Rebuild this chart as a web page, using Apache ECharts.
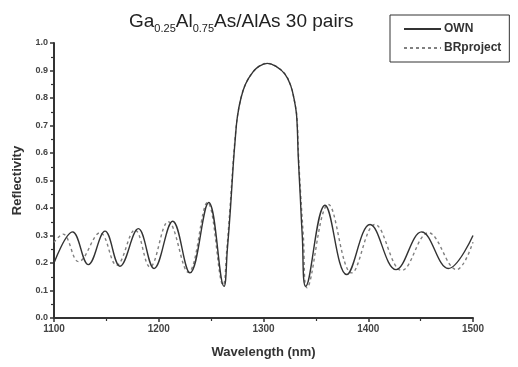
<!DOCTYPE html>
<html>
<head>
<meta charset="utf-8">
<script src="https://cdn.jsdelivr.net/npm/echarts@6/dist/echarts.min.js"></script>
<style>
  html, body { margin: 0; padding: 0; background: #fff; }
  #chart { width: 518px; height: 367px; }
</style>
</head>
<body>
<div id="chart"></div>
<script>
// values (peaks, troughs and the stop band edge)
const legendNames = ["OWN", "BRproject"];
const xTicks = [1100, 1200, 1300, 1400, 1500];

const ownWavelength = [
  1100, 1117.8, 1132.8, 1148.7, 1163, 1180.5, 1195.5, 1213.3, 1229.8, 1247.7,
  1262.3, 1265.5, 1268.5, 1271, 1273, 1275, 1278.5, 1283, 1290, 1296,
  1303.5, 1312, 1320.5, 1326, 1329.5, 1331.7, 1333.2, 1335, 1337, 1340.3,
  1358.7, 1379.4, 1401.7, 1426.5, 1451, 1476.4, 1500
];
const ownReflectivity = [
  0.200, 0.313, 0.194, 0.316, 0.188, 0.325, 0.180, 0.352, 0.164, 0.420,
  0.115, 0.250, 0.400, 0.550, 0.650, 0.730, 0.800, 0.852, 0.895, 0.916,
  0.926, 0.915, 0.887, 0.845, 0.790, 0.731, 0.585, 0.450, 0.300, 0.115,
  0.410, 0.158, 0.340, 0.176, 0.313, 0.180, 0.300
];

const brWavelength = [
  1100, 1108.5, 1123.5, 1144, 1159.8, 1177.3, 1191.6, 1209, 1228.2, 1246.5,
  1261.5, 1265, 1268, 1270.7, 1272.8, 1275, 1278.5, 1283, 1290, 1296,
  1303.5, 1312, 1320.5, 1326, 1329.5, 1331.9, 1333.5, 1335.5, 1338, 1341.5,
  1361.9, 1384.2, 1406.4, 1432, 1457.4, 1484.4, 1500
];
const brReflectivity = [
  0.275, 0.305, 0.205, 0.310, 0.192, 0.320, 0.186, 0.350, 0.166, 0.420,
  0.120, 0.250, 0.400, 0.550, 0.650, 0.730, 0.800, 0.852, 0.895, 0.916,
  0.926, 0.915, 0.887, 0.845, 0.790, 0.731, 0.585, 0.450, 0.300, 0.110,
  0.413, 0.164, 0.340, 0.173, 0.310, 0.176, 0.276
];

const ownData = ownWavelength.map((x, i) => [x, ownReflectivity[i]]);
const brData = brWavelength.map((x, i) => [x, brReflectivity[i]]);

const font = "'Liberation Sans', Arial, sans-serif";
const myChart = echarts.init(document.getElementById("chart"), null, { renderer: "canvas" });

const option = {
  backgroundColor: "#fff",
  animation: false,
  title: {
    text: "{a|Ga}{s|0.25}{a|Al}{s|0.75}{a|As/AlAs 30 pairs}",
    left: 124,
    top: 5,
    textStyle: {
      fontWeight: "normal",
      rich: {
        a: { fontFamily: font, fontSize: 19, fontWeight: "normal", color: "#222", lineHeight: 24 },
        s: { fontFamily: font, fontSize: 11, fontWeight: "normal", color: "#222", lineHeight: 8, verticalAlign: "bottom" },
      },
    },
  },
  legend: {
    orient: "vertical",
    left: 390,
    top: 15,
    width: 127,
    padding: [8, 8, 8, 13],
    borderColor: "#333",
    borderWidth: 1,
    itemWidth: 37,
    itemHeight: 8,
    itemGap: 7,
    itemStyle: { opacity: 0 },
    textStyle: { fontFamily: font, fontSize: 12, fontWeight: "bold", color: "#333", padding: [0, 0, 0, -2] },
    data: legendNames,
  },
  grid: {
    left: 54,
    right: 45,
    top: 43,
    bottom: 49,
  },
  xAxis: {
    type: "value",
    min: 1100,
    max: 1500,
    interval: 100,
    name: "Wavelength (nm)",
    nameLocation: "middle",
    nameGap: 28,
    nameTextStyle: { fontFamily: font, fontSize: 13, fontWeight: "bold", color: "#333" },
    axisLine: { show: true, lineStyle: { color: "#333", width: 2 } },
    axisTick: { show: true, inside: false, length: 4, lineStyle: { color: "#333", width: 1.5 } },
    minorTick: { show: true, splitNumber: 2, length: 3, lineStyle: { color: "#333", width: 1.2 } },
    axisLabel: {
      fontFamily: font,
      fontSize: 10,
      fontWeight: "bold",
      color: "#444",
      margin: 6,
      formatter: (v) => (xTicks.includes(v) ? String(v) : ""),
    },
    splitLine: { show: false },
  },
  yAxis: {
    type: "value",
    min: 0,
    max: 1.0,
    interval: 0.1,
    name: "Reflectivity",
    nameLocation: "middle",
    nameGap: 30,
    nameTextStyle: { fontFamily: font, fontSize: 13, fontWeight: "bold", color: "#333" },
    axisLine: { show: true, lineStyle: { color: "#333", width: 2 } },
    axisTick: { show: true, inside: false, length: 4, lineStyle: { color: "#333", width: 1.5 } },
    minorTick: { show: true, splitNumber: 2, length: 3, lineStyle: { color: "#333", width: 1.2 } },
    axisLabel: {
      fontFamily: font,
      fontSize: 9,
      fontWeight: "bold",
      color: "#444",
      margin: 6,
      formatter: (v) => v.toFixed(1),
    },
    splitLine: { show: false },
  },
  series: [
    {
      name: legendNames[0],
      type: "line",
      data: ownData,
      smooth: 0.4,
      symbol: "none",
      lineStyle: { color: "#333", width: 1.4, type: "solid" },
      itemStyle: { color: "#333" },
      z: 3,
    },
    {
      name: legendNames[1],
      type: "line",
      data: brData,
      smooth: 0.4,
      symbol: "none",
      lineStyle: { color: "#808080", width: 1.4, type: [3, 3] },
      itemStyle: { color: "#808080" },
      z: 2,
    },
  ],
};
myChart.setOption(option);
</script>
</body>
</html>
